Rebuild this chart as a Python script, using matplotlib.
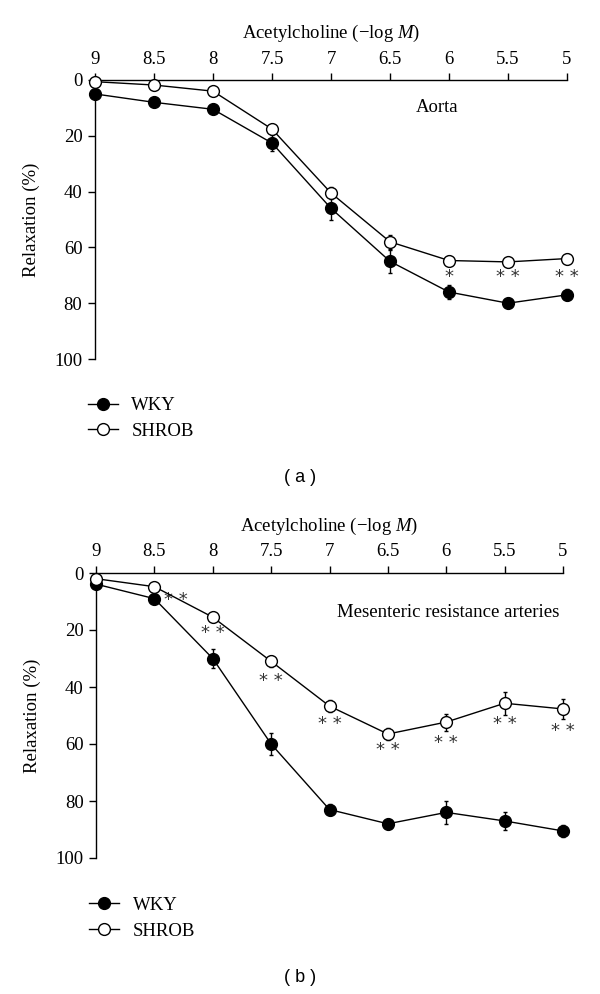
import matplotlib.pyplot as plt
from matplotlib.lines import Line2D
import numpy as np

plt.rcParams["font.family"] = ["Liberation Serif", "DejaVu Serif"]
plt.rcParams["mathtext.fontset"] = "custom"
plt.rcParams["mathtext.it"] = "Liberation Serif:italic"
plt.rcParams["mathtext.rm"] = "Liberation Serif"

conc = [9, 8.5, 8, 7.5, 7, 6.5, 6, 5.5, 5]  # acetylcholine, -log M
tick_labels = ["9", "8.5", "8", "7.5", "7", "6.5", "6", "5.5", "5"]

# (a) aorta
aorta_wky = [5, 8, 10.5, 22.6, 46, 65, 76, 80, 77]
aorta_wky_err = [0, 0, 0, 3, 4, 4, 2.5, 1.5, 2]
aorta_shrob = [0.6, 1.8, 4, 17.6, 40.5, 58, 64.7, 65.2, 64]
aorta_shrob_err = [0, 0, 0, 1, 2, 2.5, 1.5, 1, 1.5]
aorta_stars = ["", "", "", "", "", "", "*", "* *", "* *"]
aorta_star_y = [0, 0, 0, 0, 0, 0, 70.5, 70.5, 70.5]

# (b) mesenteric resistance arteries
mes_wky = [3.9, 9, 30, 60, 83, 88, 84, 87, 90.5]
mes_wky_err = [0, 0, 3.5, 4, 2, 1, 4, 3, 2]
mes_shrob = [2, 4.8, 15.5, 31, 46.7, 56.5, 52.3, 45.7, 47.7]
mes_shrob_err = [0, 0, 0, 2, 2, 2, 3, 4, 3.5]
mes_stars = ["", "* *", "* *", "* *", "* *", "* *", "* *", "* *", "* *"]
mes_star_y = [0, 9.5, 21, 38, 53, 62, 59.7, 53, 55.5]
mes_star_dx = [0, -0.18, 0, 0, 0, 0, 0, 0, 0]

W, H = 600, 994
fig = plt.figure(figsize=(W / 100, H / 100), dpi=100)


def px_axes(x0, y0, x1, y1):
    return fig.add_axes([x0 / W, 1 - y1 / H, (x1 - x0) / W, (y1 - y0) / H])


def draw_panel(ax, wky, wky_err, shrob, shrob_err, stars, star_y, star_dx,
               title, title_x, title_y):
    for vals, errs, face, z in [(wky, wky_err, "black", 3),
                                (shrob, shrob_err, "white", 4)]:
        cont = ax.errorbar(conc, vals, yerr=errs, color="black", lw=1.0,
                           marker="o", ms=8.5, mfc=face, mec="black", mew=1.0,
                           elinewidth=1.0, capsize=1.5, zorder=z)
        arts = [cont.lines[0]] + list(cont.lines[1]) + list(cont.lines[2])
        for art in arts:
            art.set_clip_on(False)
    for xv, s, yv, dx in zip(conc, stars, star_y, star_dx):
        if s:
            ax.text(xv + dx, yv, s, ha="center", va="center", fontsize=13,
                    family="DejaVu Sans", color="#333333")
    ax.set_xlim(9, 5)
    ax.set_ylim(100, 0)
    ax.xaxis.tick_top()
    ax.xaxis.set_label_position("top")
    ax.set_xticks(conc)
    ax.set_xticklabels(tick_labels)
    ax.set_yticks([0, 20, 40, 60, 80, 100])
    ax.tick_params(labelsize=13.5, width=1, length=5, pad=4)
    ax.set_xlabel("Acetylcholine (−log $\\mathit{M}$)", fontsize=13.5, labelpad=9)
    ax.set_ylabel("Relaxation (%)", fontsize=13.5, labelpad=10)
    ax.spines["bottom"].set_visible(False)
    ax.spines["right"].set_visible(False)
    ax.spines["top"].set_linewidth(1)
    ax.spines["left"].set_linewidth(1)
    ax.text(title_x, title_y, title, ha="center", va="center", fontsize=13.5)
    handles = [
        Line2D([], [], color="black", lw=1.0, marker="o", ms=8.5,
               mfc="black", mec="black"),
        Line2D([], [], color="black", lw=1.0, marker="o", ms=8.5,
               mfc="white", mec="black"),
    ]
    ax.legend(handles, ["WKY", "SHROB"], loc="upper left",
              bbox_to_anchor=(-0.03, -0.11), frameon=False,
              fontsize=13.5, handlelength=1.6, handletextpad=0.7,
              labelspacing=0.45, borderaxespad=0)


ax_a = px_axes(95, 80, 567, 359)
draw_panel(ax_a, aorta_wky, aorta_wky_err, aorta_shrob, aorta_shrob_err,
           aorta_stars, aorta_star_y, [0] * 9, "Aorta", 6.1, 10)
fig.text(300 / W, 1 - 478 / H, "( a )", ha="center", va="center",
         fontsize=13, family="Liberation Sans")

ax_b = px_axes(96, 573, 563, 858)
draw_panel(ax_b, mes_wky, mes_wky_err, mes_shrob, mes_shrob_err,
           mes_stars, mes_star_y, mes_star_dx,
           "Mesenteric resistance arteries", 5.98, 14)
fig.text(300 / W, 1 - 978 / H, "( b )", ha="center", va="center",
         fontsize=13, family="Liberation Sans")

fig.savefig("out.png", dpi=100)
